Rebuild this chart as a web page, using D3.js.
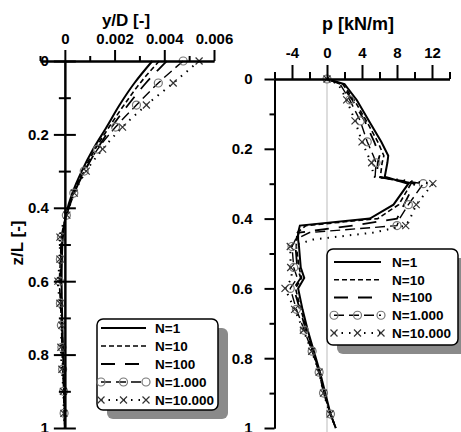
<!DOCTYPE html>
<html>
<head>
<meta charset="utf-8">
<script src="https://cdn.jsdelivr.net/npm/d3@7"></script>
<style>
  body { margin: 0; background: #fff; }
  svg text { font-family: "Liberation Sans", Arial, sans-serif; font-weight: bold; fill: #000; }
  .tick text { font-size: 15px; }
  .title { font-size: 17px; }
  .leg { font-size: 13.5px; }
</style>
</head>
<body>
<div id="chart"></div>
<script>
// Series names (legend)
const seriesNames = ["N=1", "N=10", "N=100", "N=1.000", "N=10.000"];

// Left panel: pile deflection y/D over depth z/L
const zLeft = [0, 0.06, 0.12, 0.18, 0.24, 0.30, 0.36, 0.42, 0.48, 0.54, 0.60, 0.66, 0.72, 0.78, 0.84, 0.90, 0.96, 1.0];
const yd_N1     = [0.00352, 0.0028, 0.0022, 0.00168, 0.00114, 0.00068, 0.0003, 0.00004, -0.00008, -0.00012, -0.00013, -0.00012, -0.0001, -0.00008, -0.00005, -0.00003, -0.00001, 0];
const yd_N10    = [0.0038, 0.00303, 0.00238, 0.00178, 0.00122, 0.00074, 0.00034, 0.00006, -0.0001, -0.00014, -0.00015, -0.00013, -0.00011, -0.00008, -0.00006, -0.00003, -0.00001, 0];
const yd_N100   = [0.0041, 0.00326, 0.00254, 0.00188, 0.0013, 0.0008, 0.00038, 0.00007, -0.00011, -0.00016, -0.00018, -0.00015, -0.00012, -0.0001, -0.00007, -0.00004, -0.00002, 0];
const yd_N1000  = [0.00476, 0.00376, 0.00288, 0.00204, 0.00132, 0.00078, 0.00036, 0.00006, -0.00014, -0.00018, -0.00022, -0.00018, -0.00014, -0.00012, -0.00009, -0.00005, -0.00003, 0];
const yd_N10000 = [0.0054, 0.00436, 0.00328, 0.00232, 0.00152, 0.00086, 0.00038, 0.00008, -0.0002, -0.0002, -0.00028, -0.0002, -0.00012, -0.00016, -0.00012, -0.00006, -0.00004, 0];

// Right panel: soil reaction p [kN/m] over depth z/L
const zRight = [0, 0.015, 0.06, 0.12, 0.18, 0.22, 0.24, 0.28, 0.30, 0.36, 0.40, 0.42, 0.44, 0.46, 0.48, 0.54, 0.57, 0.60, 0.66, 0.72, 0.78, 0.84, 0.90, 0.96, 1.0];
const p_N1     = [0, 2.0, 3.4, 4.8, 6.2, 7.0, 6.9, 6.6, 9.3, 7.6, 4.9, -3.1, -3.3, -3.3, -3.2, -3.0, -2.6, -3.3, -2.8, -2.2, -1.5, -0.8, -0.2, 0.4, 1.0];
const p_N10    = [0, 1.8, 3.1, 4.5, 5.8, 6.5, 6.3, 6.1, 9.6, 8.2, 5.8, -2.4, -3.4, -3.5, -3.5, -3.2, -2.9, -3.6, -3.0, -2.3, -1.6, -0.9, -0.3, 0.4, 1.0];
const p_N100   = [0, 1.6, 2.9, 4.3, 5.4, 6.0, 5.8, 5.7, 10.0, 8.8, 8.0, 3.0, -3.2, -3.5, -3.6, -3.4, -3.0, -3.8, -3.1, -2.4, -1.6, -0.9, -0.3, 0.4, 1.0];
const p_N1000  = [0, 1.5, 2.6, 3.8, 4.6, 5.3, 5.6, 5.5, 11.0, 9.3, 8.3, 8.0, -2.0, -3.6, -4.0, -3.8, -3.4, -4.2, -3.5, -2.6, -1.7, -0.9, -0.4, 0.4, 1.0];
const p_N10000 = [0, 1.3, 2.25, 3.2, 4.0, 4.7, 5.1, 5.3, 12.1, 10.2, 9.5, 9.0, 5.3, -1.6, -4.2, -4.15, -4.0, -4.8, -3.7, -2.7, -1.75, -0.9, -0.4, 0.35, 1.0];

// Tick values
const zTicks = [0, 0.2, 0.4, 0.6, 0.8, 1];
const zMinor = [0.1, 0.3, 0.5, 0.7, 0.9];
const ydTicks = [0, 0.002, 0.004, 0.006];
const ydMinor = [-0.001, 0.001, 0.003, 0.005];
const pTicks = [-4, 0, 4, 8, 12];
const pMinor = [-6, -2, 2, 6, 10, 14];

const leftData = [yd_N1, yd_N10, yd_N100, yd_N1000, yd_N10000];
const rightData = [p_N1, p_N10, p_N100, p_N1000, p_N10000];

// line style per series
const styles = [
  { dash: null, width: 2 },
  { dash: "5,3", width: 1.6 },
  { dash: "14,10", width: 1.8 },
  { dash: "10,5", width: 1.4, marker: "circle" },
  { dash: "1.5,6", width: 2, marker: "cross" }
];

const W = 461, H = 432;
const svg = d3.select("#chart").append("svg")
  .attr("width", W)
  .attr("height", H);

svg.append("rect").attr("width", W).attr("height", H).attr("fill", "#fff");

// Scales
const xL = d3.scaleLinear().domain([-0.001, 0.006]).range([40, 214]);
const yL = d3.scaleLinear().domain([0, 1]).range([61, 428]);
const xR = d3.scaleLinear().domain([-6, 14]).range([274.5, 449.5]);
const yR = d3.scaleLinear().domain([0, 1]).range([79, 428]);

// marker helpers
function drawMarker(g, type, cx, cy) {
  if (type === "circle") {
    g.append("circle").attr("cx", cx).attr("cy", cy).attr("r", 4)
      .attr("fill", "none").attr("stroke", "#777").attr("stroke-width", 1.2);
  } else if (type === "cross") {
    const s = 3.5;
    g.append("path")
      .attr("d", `M${cx - s},${cy - s}L${cx + s},${cy + s}M${cx - s},${cy + s}L${cx + s},${cy - s}`)
      .attr("stroke", "#333").attr("stroke-width", 1.2).attr("fill", "none");
  }
}
const onGrid = z => Math.abs(z / 0.06 - Math.round(z / 0.06)) < 1e-6 && z < 0.99;

// zero line in right panel
svg.append("line")
  .attr("x1", xR(0)).attr("x2", xR(0))
  .attr("y1", yR(0)).attr("y2", H)
  .attr("stroke", "#bbb").attr("stroke-width", 1);

// curves
function drawCurves(zs, dataSets, xS, yS, curve) {
  const line = d3.line().x(d => xS(d[1])).y(d => yS(d[0])).curve(curve);
  dataSets.forEach((vals, i) => {
    const pts = zs.map((z, k) => [z, vals[k]]);
    const st = styles[i];
    svg.append("path")
      .datum(pts)
      .attr("d", line)
      .attr("fill", "none")
      .attr("stroke", "#000")
      .attr("stroke-width", st.width)
      .attr("stroke-dasharray", st.dash);
    if (st.marker) {
      const mg = svg.append("g");
      pts.filter(d => onGrid(d[0])).forEach(d => drawMarker(mg, st.marker, xS(d[1]), yS(d[0])));
    }
  });
}
drawCurves(zLeft, leftData, xL, yL, d3.curveMonotoneY);
drawCurves(zRight, rightData, xR, yR, d3.curveLinear);

// axes
function styleAxis(g) {
  g.select(".domain").attr("stroke-width", 2);
  g.selectAll(".tick line").attr("stroke-width", 2);
  g.attr("font-size", null).attr("font-family", null);
}

// left panel - top axis
svg.append("g").attr("transform", `translate(0,${yL(0)})`)
  .call(d3.axisTop(xL).tickValues(ydMinor).tickSize(5).tickSizeOuter(0).tickFormat(""))
  .call(styleAxis);
svg.append("g").attr("transform", `translate(0,${yL(0)})`)
  .call(d3.axisTop(xL).tickValues(ydTicks).tickSize(11).tickSizeOuter(0).tickPadding(6)
    .tickFormat(d => d === 0 ? "0" : d.toFixed(3)))
  .call(styleAxis);

// left panel - vertical axis with crossing ticks
svg.append("g").attr("transform", `translate(${xL(0)},0)`)
  .call(d3.axisLeft(yL).tickValues(zMinor).tickSize(6).tickSizeOuter(0).tickFormat(""))
  .call(styleAxis)
  .call(g => g.selectAll(".tick line").attr("x1", 6));
svg.append("g").attr("transform", `translate(${xL(0)},0)`)
  .call(d3.axisLeft(yL).tickValues(zTicks).tickSize(11).tickSizeOuter(0).tickPadding(5).tickFormat(d => String(d)))
  .call(styleAxis)
  .call(g => g.selectAll(".tick line").attr("x1", 11));

// right panel - top axis
svg.append("g").attr("transform", `translate(0,${yR(0)})`)
  .call(d3.axisTop(xR).tickValues(pMinor).tickSize(7).tickSizeOuter(0).tickFormat(""))
  .call(styleAxis);
svg.append("g").attr("transform", `translate(0,${yR(0)})`)
  .call(d3.axisTop(xR).tickValues(pTicks).tickSize(14).tickSizeOuter(0).tickPadding(7).tickFormat(d => String(d)))
  .call(styleAxis);

// right panel - vertical axis
svg.append("g").attr("transform", `translate(${xR(-6)},0)`)
  .call(d3.axisLeft(yR).tickValues(zMinor).tickSize(5).tickSizeOuter(0).tickFormat(""))
  .call(styleAxis);
svg.append("g").attr("transform", `translate(${xR(-6)},0)`)
  .call(d3.axisLeft(yR).tickValues(zTicks).tickSize(10).tickSizeOuter(0).tickPadding(12).tickFormat(d => String(d)))
  .call(styleAxis);

// axis titles
svg.append("text").attr("class", "title")
  .attr("x", 126).attr("y", 26)
  .attr("text-anchor", "middle")
  .text("y/D [-]");

svg.append("text").attr("class", "title")
  .attr("transform", "translate(23,243) rotate(-90)")
  .attr("text-anchor", "middle")
  .text("z/L [-]");

svg.append("text").attr("class", "title")
  .attr("x", 358).attr("y", 30)
  .attr("text-anchor", "middle")
  .style("font-size", "18px")
  .text("p [kN/m]");

// legends
function drawLegend(bx, by, bw, bh, row0, step, sx0, sx1, tx) {
  const g = svg.append("g");
  g.append("rect").attr("x", bx + 10).attr("y", by + 9).attr("width", bw).attr("height", bh)
    .attr("rx", 6).attr("fill", "#8a8a8a");
  g.append("rect").attr("x", bx).attr("y", by).attr("width", bw).attr("height", bh)
    .attr("rx", 6).attr("fill", "#fff").attr("stroke", "#000").attr("stroke-width", 1.5);
  seriesNames.forEach((name, i) => {
    const cy = row0 + i * step;
    const st = styles[i];
    g.append("line").attr("x1", sx0).attr("x2", sx1).attr("y1", cy).attr("y2", cy)
      .attr("stroke", "#000").attr("stroke-width", st.width)
      .attr("stroke-dasharray", st.dash);
    if (st.marker) {
      [sx0, (sx0 + sx1) / 2, sx1].forEach(mx => drawMarker(g, st.marker, mx, cy));
    }
    g.append("text").attr("class", "leg")
      .attr("x", tx).attr("y", cy).attr("dy", "0.36em")
      .text(name);
  });
}
drawLegend(97, 319, 121, 91, 328, 18, 101, 146, 155);
drawLegend(327, 249, 131, 96, 262, 17.75, 334, 381, 392);
</script>
</body>
</html>
